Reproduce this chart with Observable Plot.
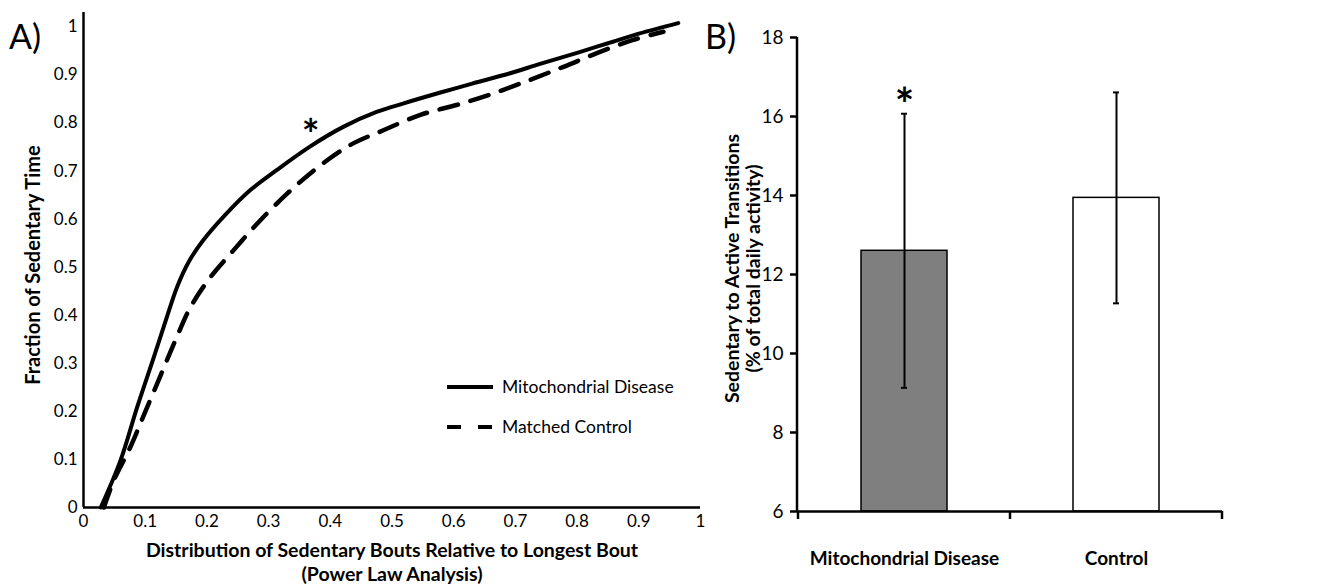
<!DOCTYPE html>
<html><head><meta charset="utf-8">
<script src="https://cdn.jsdelivr.net/npm/d3@7"></script>
<script src="https://cdn.jsdelivr.net/npm/@observablehq/plot@0.6"></script>
<style>
body{margin:0;background:#fff;font-family:Lato,sans-serif;}
#wrap{position:relative;width:1324px;height:585px;overflow:hidden;background:#fff;}
.panel{position:absolute;font-family:Lato,sans-serif;font-size:34px;color:#000;line-height:1;}
</style></head><body><div id="wrap"></div>
<script>
// ---------- Panel A data ----------
const mitoX = [0.028,0.060,0.087,0.114,0.136,0.152,0.170,0.194,0.232,0.270,0.313,0.367,0.421,0.475,0.519,0.580,0.630,0.690,0.740,0.800,0.850,0.900,0.964];
const mitoY = [0.000,0.098,0.209,0.313,0.400,0.460,0.510,0.556,0.612,0.660,0.702,0.751,0.792,0.823,0.841,0.864,0.882,0.903,0.923,0.946,0.966,0.986,1.008];
const ctrlX = [0.033,0.049,0.076,0.100,0.125,0.149,0.173,0.205,0.243,0.281,0.330,0.378,0.432,0.486,0.546,0.606,0.665,0.724,0.778,0.833,0.891,0.940];
const ctrlY = [0.000,0.056,0.126,0.199,0.275,0.348,0.416,0.478,0.535,0.590,0.653,0.706,0.754,0.785,0.817,0.838,0.862,0.890,0.917,0.946,0.973,0.990];
const xTicksA = d3.range(0, 11).map(i => i / 10);
const yTicksA = d3.range(0, 11).map(i => i / 10);
const seriesNames = ["Mitochondrial Disease", "Matched Control"];
const starA = [{x: 0.368, y: 0.796}];

// ---------- Panel B data ----------
const groups = ["Mitochondrial Disease", "Control"];
const means = [12.60, 13.94];
const sds = [3.47, 2.67];
const fills = ["#7f7f7f", "#ffffff"];
const stars = [true, false];
const yTicksB = [6, 8, 10, 12, 14, 16, 18];

const mito = mitoX.map((x, i) => ({x, y: mitoY[i]}));
const ctrl = ctrlX.map((x, i) => ({x, y: ctrlY[i]}));
const rows = groups.map((g, i) => ({group: g, mean: means[i], sd: sds[i], fill: fills[i], star: stars[i]}));
const fmt = d => String(+d.toFixed(1));

const wrap = document.getElementById("wrap");

// ---------- Panel A ----------
const plotA = Plot.plot({
  width: 720, height: 585,
  marginLeft: 83, marginRight: 20, marginTop: 12, marginBottom: 78,
  x: {domain: [0, 1]},
  y: {domain: [0, 1.03]},
  style: {fontFamily: "Lato, sans-serif", background: "transparent", overflow: "visible", color: "#000"},
  marks: [
    Plot.axisY(yTicksA, {tickSize: 0, tickPadding: 6, fontSize: 17, tickFormat: fmt, label: null}),
    Plot.axisX(xTicksA, {tickSize: 0, tickPadding: 7, fontSize: 17, tickFormat: fmt, label: null}),
    Plot.ruleX([0], {stroke: "#000", strokeWidth: 2.5}),
    Plot.ruleY([0], {stroke: "#000", strokeWidth: 2.5}),
    Plot.line(ctrl, {x: "x", y: "y", curve: "catmull-rom", stroke: "#000", strokeWidth: 4.5, strokeDasharray: "19,13"}),
    Plot.line(mito, {x: "x", y: "y", curve: "catmull-rom", stroke: "#000", strokeWidth: 4}),
    Plot.text(starA, {x: "x", y: "y", text: () => "*", fontSize: 42, fontWeight: "bold", dy: 12}),
    Plot.text(["Fraction of Sedentary Time"], {text: d => d, frameAnchor: "left", textAnchor: "middle", rotate: -90, dx: -50, dy: 5, fontSize: 20, fontWeight: "bold"}),
    Plot.text(["Distribution of Sedentary Bouts Relative to Longest Bout\n(Power Law Analysis)"], {text: d => d, frameAnchor: "bottom", textAnchor: "middle", lineAnchor: "top", dy: 32, lineHeight: 1.25, fontSize: 19.5, fontWeight: "bold"})
  ]
});
plotA.style.position = "absolute"; plotA.style.left = "0px"; plotA.style.top = "0px";
wrap.appendChild(plotA);

// ---------- Panel B ----------
function axisLinesAndBandTicks(index, scales, values, dims, context) {
  const x = scales.x;
  const n = groups.length;
  const left = dims.marginLeft, right = dims.width - dims.marginRight;
  let edges;
  if (x && typeof x.bandwidth === "function") {
    edges = groups.map(g => x(g));
    edges.push(x(groups[n - 1]) + x.bandwidth());
  } else {
    edges = d3.range(n + 1).map(i => left + (right - left) * i / n);
  }
  const y0 = dims.height - dims.marginBottom;
  const g = d3.create("svg:g").attr("stroke", "#000").attr("stroke-width", 2.5);
  g.append("line").attr("x1", left).attr("x2", left).attr("y1", dims.marginTop).attr("y2", y0);
  for (const e of edges) g.append("line").attr("x1", e).attr("x2", e).attr("y1", y0).attr("y2", y0 + 8);
  return g.node();
}

const plotB = Plot.plot({
  width: 624, height: 585,
  marginLeft: 97, marginRight: 102, marginTop: 37, marginBottom: 74,
  x: {type: "band", domain: groups, padding: 0},
  y: {domain: [6, 18]},
  color: {type: "identity"},
  style: {fontFamily: "Lato, sans-serif", background: "transparent", overflow: "visible", color: "#000"},
  marks: [
    Plot.barY(rows, {x: "group", y1: () => 6, y2: "mean", fill: "fill", stroke: "#000", strokeWidth: 1.5, insetLeft: 63, insetRight: 63}),
    Plot.ruleX(rows, {x: "group", y1: d => d.mean - d.sd, y2: d => d.mean + d.sd, stroke: "#000", strokeWidth: 2}),
    Plot.tickY(rows, {x: "group", y: d => d.mean + d.sd, stroke: "#000", strokeWidth: 2, insetLeft: 103, insetRight: 103}),
    Plot.tickY(rows, {x: "group", y: d => d.mean - d.sd, stroke: "#000", strokeWidth: 2, insetLeft: 103, insetRight: 103}),
    Plot.text(rows.filter(d => d.star), {x: "group", y: d => d.mean + d.sd, text: () => "*", fontSize: 46, fontWeight: "bold", dy: -7}),
    Plot.ruleY([6], {stroke: "#000", strokeWidth: 2.5}),
    Plot.axisY(yTicksB, {tickSize: 7, tickPadding: 7, fontSize: 19, strokeWidth: 2.5, label: null}),
    Plot.axisX({tickSize: 0, tickPadding: 40, fontSize: 19, fontWeight: "bold", label: null}),
    axisLinesAndBandTicks,
    Plot.text(["Sedentary to Active Transitions\n(% of total daily activity)"], {text: d => d, frameAnchor: "left", textAnchor: "middle", rotate: -90, dx: -55, dy: -6, lineAnchor: "middle", lineHeight: 1.1, fontSize: 19.5, fontWeight: "bold"})
  ]
});
plotB.style.position = "absolute"; plotB.style.left = "700px"; plotB.style.top = "0px";
wrap.appendChild(plotB);

// ---------- Panel letters ----------
const la = document.createElement("div"); la.className = "panel"; la.textContent = "A)"; la.style.left = "9px"; la.style.top = "19px"; wrap.appendChild(la);
const lb = document.createElement("div"); lb.className = "panel"; lb.textContent = "B)"; lb.style.left = "705px"; lb.style.top = "19px"; wrap.appendChild(lb);

// ---------- Legend for panel A ----------
const ns = "http://www.w3.org/2000/svg";
const leg = document.createElementNS(ns, "svg");
leg.setAttribute("width", 260); leg.setAttribute("height", 80);
leg.style.position = "absolute"; leg.style.left = "440px"; leg.style.top = "360px";
const dashes = [null, "14,17"];
seriesNames.forEach((name, i) => {
  const yy = 27 + i * 40;
  const ln = document.createElementNS(ns, "line");
  ln.setAttribute("x1", 7); ln.setAttribute("x2", 53); ln.setAttribute("y1", yy); ln.setAttribute("y2", yy);
  ln.setAttribute("stroke", "#000"); ln.setAttribute("stroke-width", 4);
  if (dashes[i]) ln.setAttribute("stroke-dasharray", dashes[i]);
  leg.appendChild(ln);
  const tx = document.createElementNS(ns, "text");
  tx.setAttribute("x", 62); tx.setAttribute("y", yy); tx.setAttribute("dy", "0.35em");
  tx.setAttribute("font-family", "Lato, sans-serif"); tx.setAttribute("font-size", 17.5);
  tx.textContent = name;
  leg.appendChild(tx);
});
wrap.appendChild(leg);
</script></body></html>
